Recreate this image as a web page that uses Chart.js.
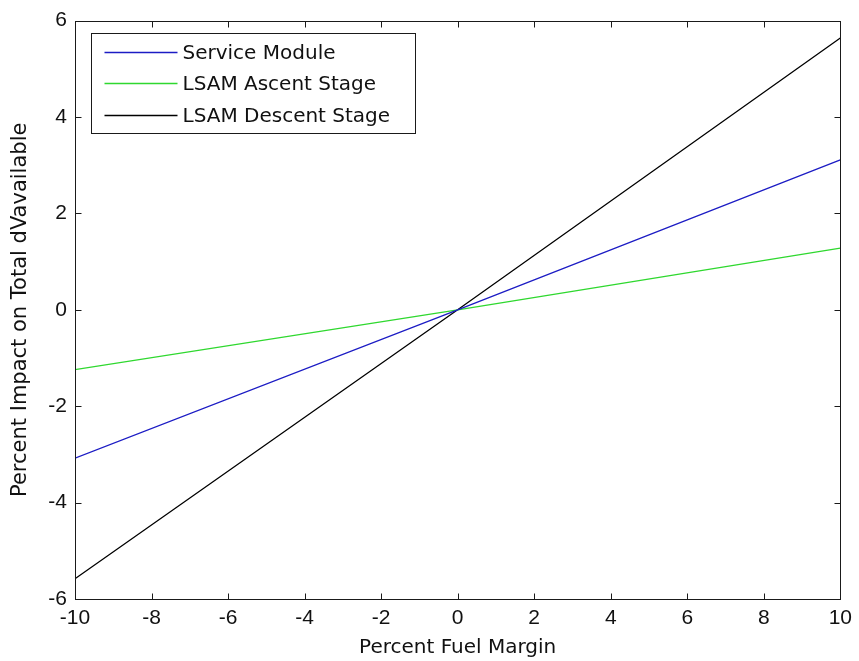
<!DOCTYPE html>
<html>
<head>
<meta charset="utf-8">
<script src="https://cdn.jsdelivr.net/npm/chart.js@4/dist/chart.umd.min.js"></script>
<style>
  html, body { margin: 0; padding: 0; background: #fff; }
  #wrap { width: 859px; height: 661px; }
</style>
</head>
<body>
<div id="wrap"><canvas id="c" width="859" height="661"></canvas></div>
<script>
// Fuel margin sensitivity (percent) and resulting impact on total dV available (percent)
const fuelMargin = [-10, 0, 10];
const serviceModule = [-3.08, 0, 3.11];
const lsamAscent = [-1.24, 0, 1.28];
const lsamDescent = [-5.58, 0, 5.64];

const seriesNames = ['Service Module', 'LSAM Ascent Stage', 'LSAM Descent Stage'];
const seriesColors = ['#1c1cc4', '#2fd82f', '#000000'];

const xTickValues = [-10, -8, -6, -4, -2, 0, 2, 4, 6, 8, 10];
const yTickValues = [-6, -4, -2, 0, 2, 4, 6];

const TICK_FONT = '"Liberation Sans", Arial, sans-serif';
const LABEL_FONT = '"DejaVu Sans", Verdana, sans-serif';

function toPoints(ys) {
  return fuelMargin.map((x, i) => ({ x: x, y: ys[i] }));
}

// Box around the axes, inward ticks on all four sides, and the boxed legend
const matlabFrame = {
  id: 'matlabFrame',
  afterDatasetsDraw(chart) {
    const { ctx, chartArea: a, scales } = chart;
    const L = Math.round(a.left) + 0.5, R = Math.round(a.right) + 0.5;
    const T = Math.round(a.top) + 0.5, B = Math.round(a.bottom) + 0.5;
    const tl = 6;
    ctx.save();
    ctx.strokeStyle = '#1a1a1a';
    ctx.lineWidth = 1;
    ctx.strokeRect(L, T, R - L, B - T);
    ctx.beginPath();
    xTickValues.forEach(v => {
      const px = Math.round(scales.x.getPixelForValue(v)) + 0.5;
      ctx.moveTo(px, B); ctx.lineTo(px, B - tl);
      ctx.moveTo(px, T); ctx.lineTo(px, T + tl);
    });
    yTickValues.forEach(v => {
      const py = Math.round(scales.y.getPixelForValue(v)) + 0.5;
      ctx.moveTo(L, py); ctx.lineTo(L + tl, py);
      ctx.moveTo(R, py); ctx.lineTo(R - tl, py);
    });
    ctx.stroke();

    // legend
    const bx = L + 16, by = T + 12, bw = 324, bh = 100;
    ctx.fillStyle = '#fff';
    ctx.fillRect(bx, by, bw, bh);
    ctx.strokeStyle = '#1a1a1a';
    ctx.strokeRect(bx, by, bw, bh);
    const rows = [18, 49.5, 81];
    ctx.font = '20px ' + LABEL_FONT;
    ctx.textBaseline = 'middle';
    ctx.textAlign = 'left';
    chart.data.datasets.forEach((ds, i) => {
      const y = Math.round(by + rows[i]) + 0.5;
      ctx.strokeStyle = ds.borderColor;
      ctx.lineWidth = 1.4;
      ctx.beginPath();
      ctx.moveTo(bx + 13, y); ctx.lineTo(bx + 86, y);
      ctx.stroke();
      ctx.fillStyle = '#111';
      ctx.fillText(ds.label, bx + 91, y + 1);
    });
    ctx.restore();
  }
};

new Chart(document.getElementById('c'), {
  type: 'line',
  data: {
    datasets: [
      { label: seriesNames[0], data: toPoints(serviceModule), borderColor: seriesColors[0] },
      { label: seriesNames[1], data: toPoints(lsamAscent), borderColor: seriesColors[1] },
      { label: seriesNames[2], data: toPoints(lsamDescent), borderColor: seriesColors[2] }
    ].map(d => Object.assign(d, { borderWidth: 1.3, pointRadius: 0, tension: 0, fill: false }))
  },
  options: {
    responsive: false,
    animation: false,
    layout: { padding: { left: 0, top: 20, right: 15, bottom: 0 } },
    plugins: { legend: { display: false }, tooltip: { enabled: false } },
    scales: {
      x: {
        type: 'linear',
        min: -10, max: 10,
        afterBuildTicks: s => { s.ticks = xTickValues.map(v => ({ value: v })); },
        afterFit: s => { s.height = 62; },
        grid: { display: false, drawTicks: false },
        border: { display: false },
        ticks: { padding: 7, color: '#111', font: { family: TICK_FONT, size: 21 }, maxRotation: 0 },
        title: { display: true, text: 'Percent Fuel Margin', color: '#111',
                 font: { family: LABEL_FONT, size: 20, lineHeight: 1 }, padding: { top: 2, bottom: 3 } }
      },
      y: {
        type: 'linear',
        min: -6, max: 6,
        afterBuildTicks: s => { s.ticks = yTickValues.map(v => ({ value: v })); },
        afterFit: s => { s.width = 75; },
        grid: { display: false, drawTicks: false },
        border: { display: false },
        ticks: { padding: 8, color: '#111', font: { family: TICK_FONT, size: 21 } },
        title: { display: true, text: 'Percent Impact on Total dVavailable', color: '#111',
                 font: { family: LABEL_FONT, size: 21, lineHeight: 1 }, padding: { top: 10, bottom: 2 } }
      }
    }
  },
  plugins: [matlabFrame]
});
</script>
</body>
</html>
